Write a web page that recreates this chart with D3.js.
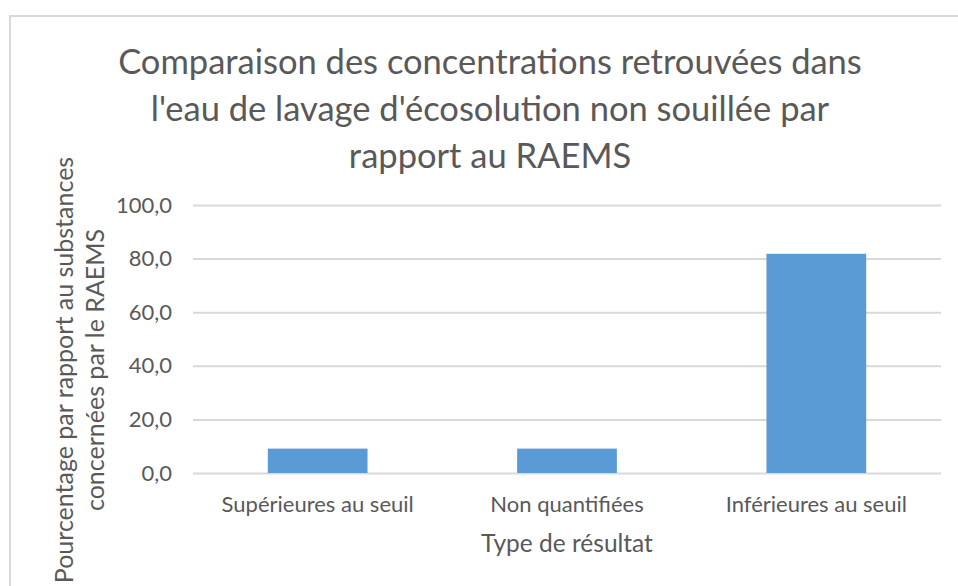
<!DOCTYPE html>
<html>
<head>
<meta charset="utf-8">
<script src="https://cdn.jsdelivr.net/npm/d3@7"></script>
<style>
  html, body { margin: 0; padding: 0; background: #fff; }
  svg { display: block; font-family: Lato, "Open Sans", sans-serif; }
  text { fill: #595959; }
</style>
</head>
<body>
<div id="container"></div>
<script>
const categories = ['Supérieures au seuil', 'Non quantifiées', 'Inférieures au seuil'];
const values = [9.1, 9.1, 81.8];
const yTicks = [0, 20, 40, 60, 80, 100];
const titleLines = [
  'Comparaison des concentrations retrouvées dans',
  "l'eau de lavage d'écosolution non souillée par",
  'rapport au RAEMS'
];
const yTitleLines = ['Pourcentage par rapport au substances', 'concernées par le RAEMS'];
const xTitle = 'Type de résultat';

const width = 958;
const height = 586;
const margin = { top: 205, right: 17, bottom: 113, left: 193 };

const svg = d3.select('#container')
  .append('svg')
  .attr('width', width)
  .attr('height', height);

// chart frame (runs off the right and bottom edges)
svg.append('rect')
  .attr('x', 10)
  .attr('y', 16)
  .attr('width', width)
  .attr('height', height)
  .attr('fill', 'none')
  .attr('stroke', '#d9d9d9')
  .attr('stroke-width', 2);

const x = d3.scaleBand()
  .domain(categories)
  .range([margin.left, width - margin.right])
  .paddingInner(0.6)
  .paddingOuter(0.3);

const y = d3.scaleLinear()
  .domain([0, 100])
  .range([height - margin.bottom, margin.top]);

// gridlines + tick labels
const yAxis = svg.append('g')
  .attr('transform', `translate(${margin.left},0)`)
  .call(d3.axisLeft(y)
    .tickValues(yTicks)
    .tickSize(-(width - margin.left - margin.right))
    .tickPadding(21)
    .tickFormat(d => d3.format('.1f')(d).replace('.', ',')));
yAxis.select('.domain').remove();
yAxis.selectAll('line').attr('stroke', '#d9d9d9').attr('stroke-width', 2);
yAxis.selectAll('text')
  .attr('font-size', 22)
  .attr('fill', '#595959')
  .attr('font-family', 'Lato, sans-serif');

svg.append('g')
  .selectAll('rect')
  .data(values)
  .enter()
  .append('rect')
  .attr('x', (d, i) => x(categories[i]))
  .attr('y', d => y(d))
  .attr('width', x.bandwidth())
  .attr('height', d => y(0) - y(d))
  .attr('fill', '#5b9bd5');

// category labels
svg.append('g')
  .selectAll('text')
  .data(categories)
  .enter()
  .append('text')
  .attr('x', d => x(d) + x.bandwidth() / 2)
  .attr('y', 512)
  .attr('text-anchor', 'middle')
  .attr('font-size', 22)
  .text(d => d);

svg.append('text')
  .attr('x', (margin.left + width - margin.right) / 2)
  .attr('y', 552)
  .attr('text-anchor', 'middle')
  .attr('font-size', 24.5)
  .text(xTitle);

svg.append('g')
  .selectAll('text')
  .data(titleLines)
  .enter()
  .append('text')
  .attr('x', 490)
  .attr('y', (d, i) => 74 + i * 47)
  .attr('text-anchor', 'middle')
  .attr('font-size', 34.5)
  .text(d => d);

svg.append('g')
  .selectAll('text')
  .data(yTitleLines)
  .enter()
  .append('text')
  .attr('transform', (d, i) => `translate(${73 + i * 31},370) rotate(-90)`)
  .attr('text-anchor', 'middle')
  .attr('font-size', 25)
  .text(d => d);
</script>
</body>
</html>
